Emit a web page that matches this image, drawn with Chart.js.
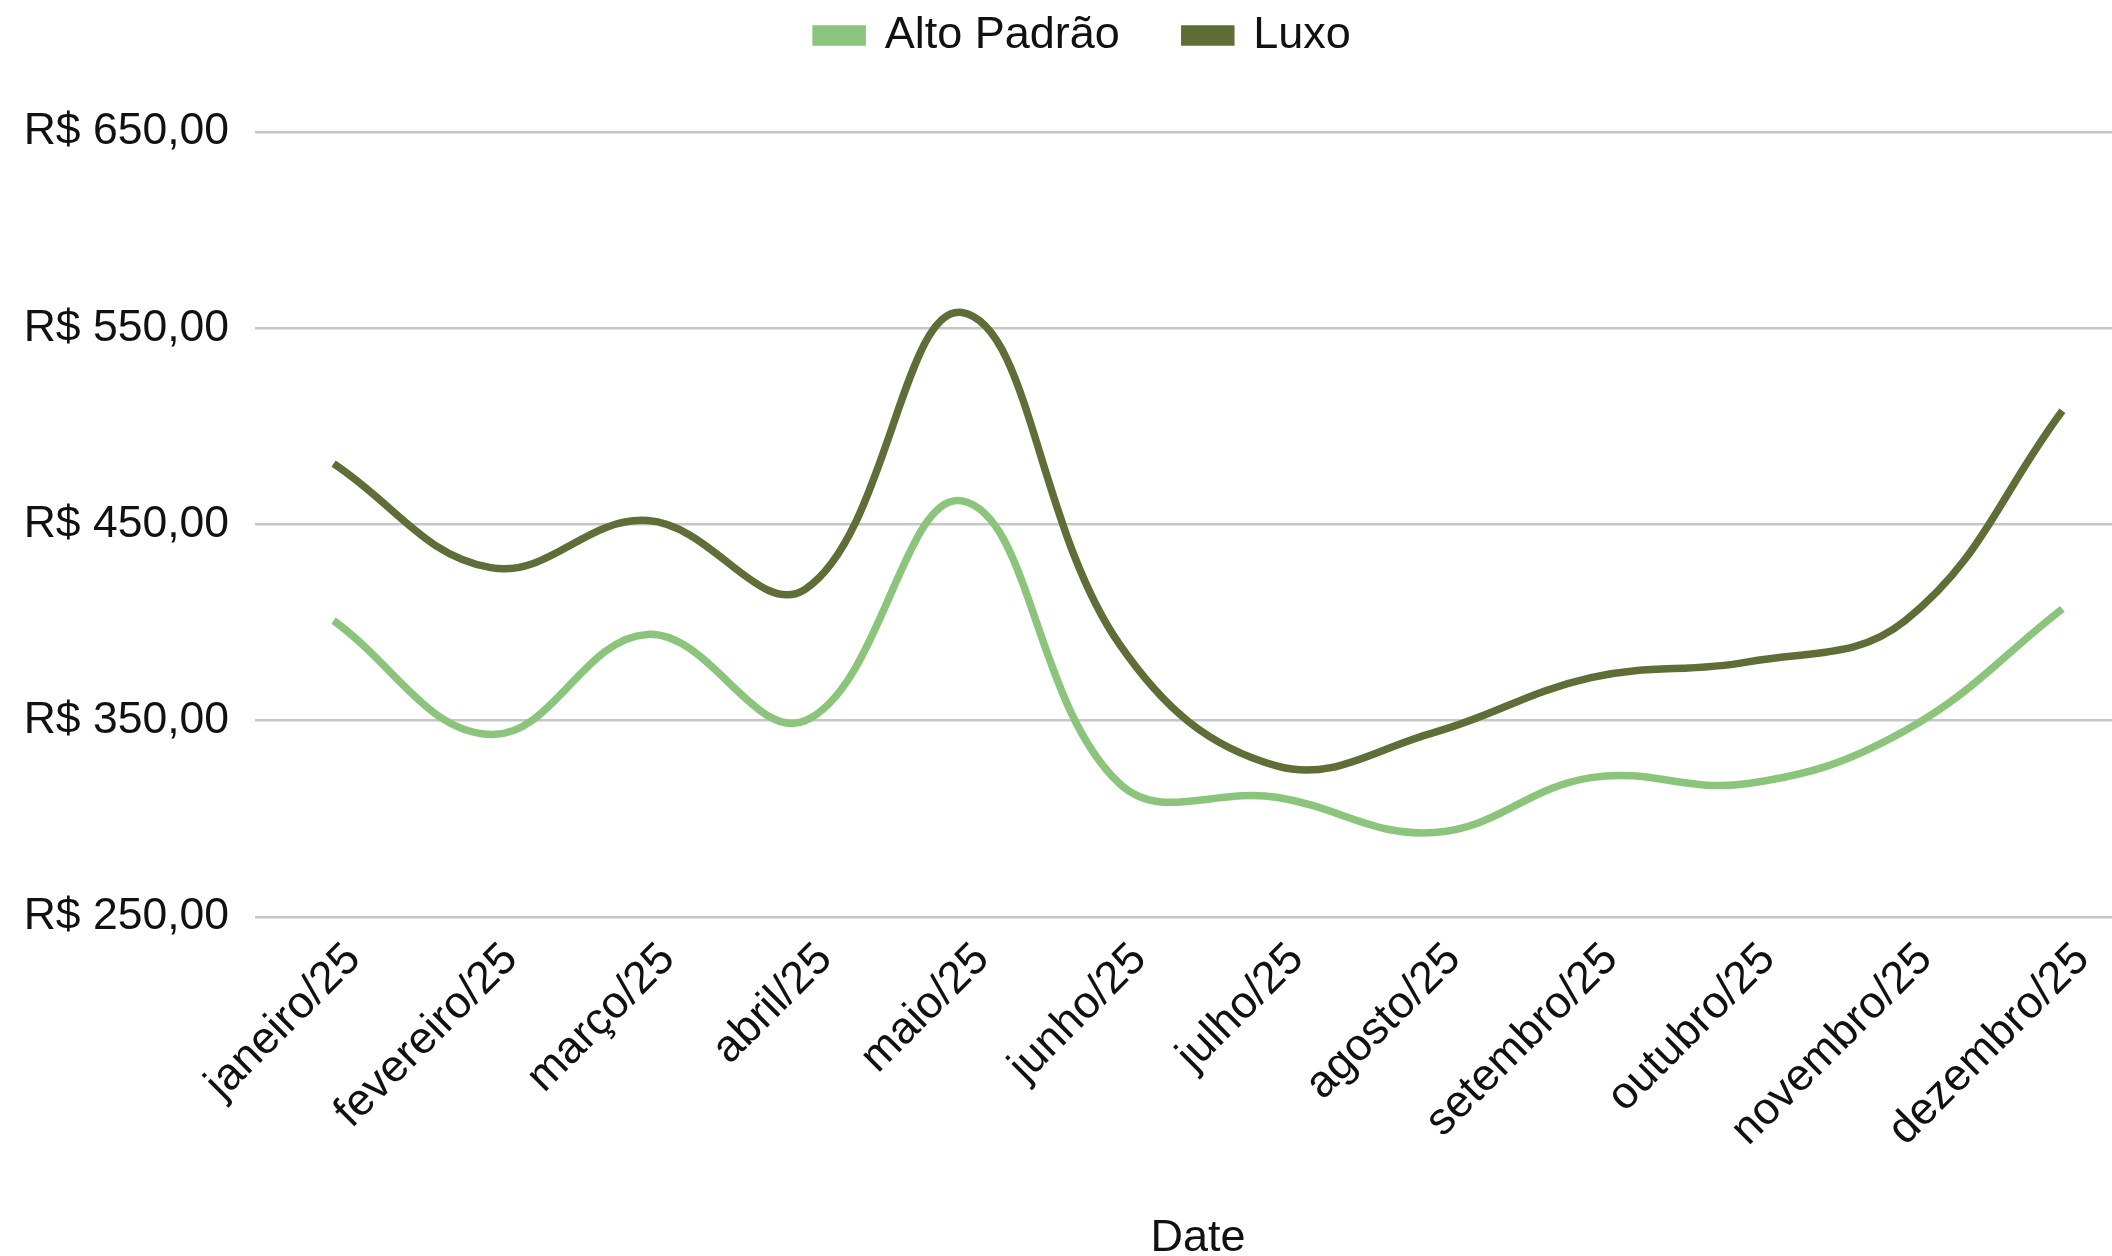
<!DOCTYPE html>
<html>
<head>
<meta charset="utf-8">
<script src="https://cdn.jsdelivr.net/npm/chart.js@4.4.1/dist/chart.umd.min.js"></script>
<style>
  html, body { margin: 0; padding: 0; background: #ffffff; overflow: hidden; width: 2112px; height: 1256px; }
  #wrap { position: absolute; left: 0; top: 0; width: 2168px; height: 1256px; }
</style>
</head>
<body>
<div id="wrap"><canvas id="chart" width="2168" height="1256"></canvas></div>
<script>
// Monthly prices per segment (R$)
const months = ['janeiro/25', 'fevereiro/25', 'março/25', 'abril/25', 'maio/25', 'junho/25',
                'julho/25', 'agosto/25', 'setembro/25', 'outubro/25', 'novembro/25', 'dezembro/25'];
const altoPadrao = [401, 343, 394, 350, 462, 318, 311, 293, 321, 318, 345, 407];
const luxo       = [481, 428, 452, 417, 558, 389, 327, 344, 372, 380, 401, 508];
const yTicks = [250, 350, 450, 550, 650];

const FONT = '"Liberation Sans", Arial, sans-serif';
const TEXT = '#111111';

const brl = v => 'R$ ' + v.toFixed(2).replace('.', ',');

new Chart(document.getElementById('chart'), {
  type: 'line',
  data: {
    labels: months,
    datasets: [
      {
        label: 'Alto Padrão',
        data: altoPadrao,
        borderColor: '#8bc47b',
        backgroundColor: '#8bc47b',
        borderWidth: 7.5,
        pointRadius: 0,
        tension: 0.4,
        fill: false
      },
      {
        label: 'Luxo',
        data: luxo,
        borderColor: '#5f6e37',
        backgroundColor: '#5f6e37',
        borderWidth: 7.5,
        pointRadius: 0,
        tension: 0.4,
        fill: false
      }
    ]
  },
  options: {
    responsive: false,
    animation: false,
    devicePixelRatio: 1,
    layout: { padding: { top: -52, right: 27, bottom: 0, left: 26 } },
    plugins: {
      tooltip: { enabled: false },
      legend: {
        position: 'top',
        align: 'center',
        labels: {
          color: TEXT,
          font: { family: FONT, size: 45 },
          boxWidth: 46,
          boxHeight: 13,
          padding: 65
        }
      }
    },
    scales: {
      x: {
        offset: true,
        grid: { display: false, drawTicks: false },
        border: { display: false },
        ticks: {
          color: TEXT,
          font: { family: FONT, size: 45 },
          minRotation: 45,
          maxRotation: 45,
          autoSkip: false,
          padding: 16,
          labelOffset: 20
        },
        title: {
          display: true,
          text: 'Date',
          color: TEXT,
          font: { family: FONT, size: 45 },
          padding: { top: 0, bottom: -10 }
        },
        afterFit: s => { s.height = 339; }
      },
      y: {
        min: 250,
        max: 682.6,
        grid: { color: '#c6c6c6', lineWidth: 2.5, drawTicks: false },
        border: { display: false },
        afterBuildTicks: s => { s.ticks = yTicks.map(v => ({ value: v })); },
        afterFit: s => { s.width = 229; },
        ticks: {
          color: TEXT,
          font: { family: FONT, size: 44.5 },
          padding: 26,
          callback: v => brl(v)
        }
      }
    }
  }
});
</script>
</body>
</html>
